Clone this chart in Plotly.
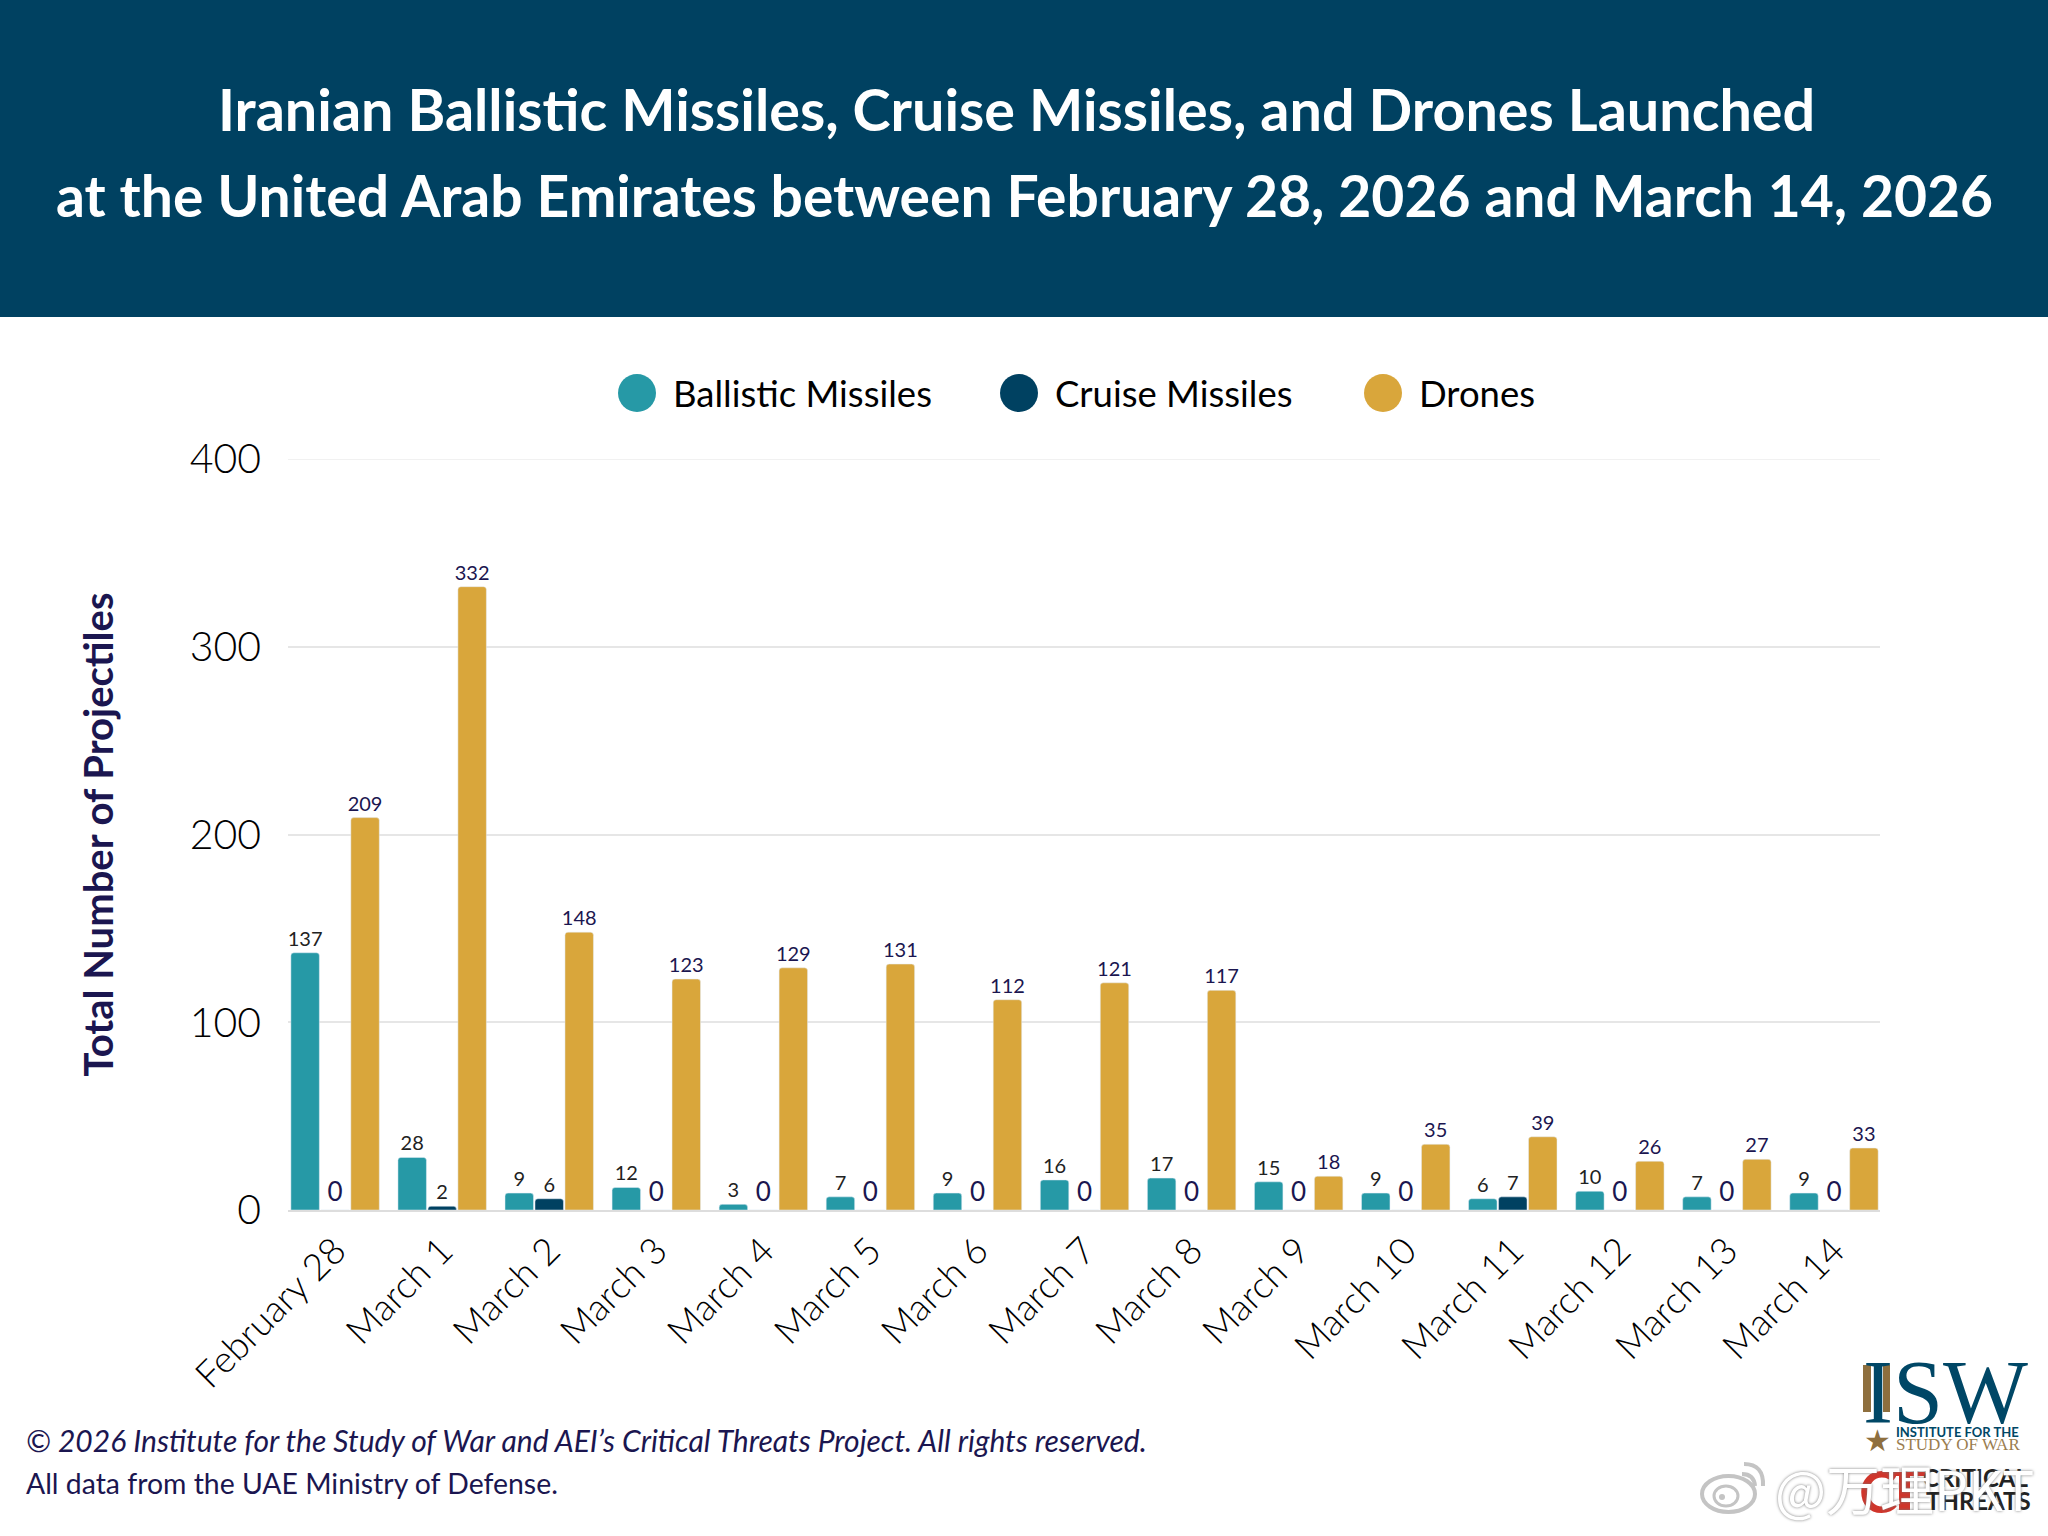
import plotly.graph_objects as go

days = ["February 28", "March 1", "March 2", "March 3", "March 4", "March 5", "March 6", "March 7",
        "March 8", "March 9", "March 10", "March 11", "March 12", "March 13", "March 14"]
ballistic = [137, 28, 9, 12, 3, 7, 9, 16, 17, 15, 9, 6, 10, 7, 9]
cruise = [0, 2, 6, 0, 0, 0, 0, 0, 0, 0, 0, 7, 0, 0, 0]
drones = [209, 332, 148, 123, 129, 131, 112, 121, 117, 18, 35, 39, 26, 27, 33]

TEAL = "#2699a6"
NAVY = "#004161"
GOLD = "#d9a63b"
INK = "#1b1650"
BROWN = "#8e6f3e"
RED = "#d0352b"
MARK = "#c4c4c4"
W, H = 2048, 1536


def px(x):
    return x / W


def py(y):
    return 1 - y / H


def label_fonts(values, color):
    # the zero labels are drawn bigger than the others in the original
    return dict(
        family="Lato",
        size=[26 if v == 0 else 20 for v in values],
        color=[INK if v == 0 else color for v in values],
    )


def note(x, y, text, size, color="black", family="Lato", xanchor="center"):
    return dict(xref="paper", yref="paper", x=px(x), y=py(y), text=text, showarrow=False,
                xanchor=xanchor, yanchor="middle",
                font=dict(size=size, color=color, family=family))


def box(kind, x0, y0, x1, y1, fill, **kw):
    return dict(type=kind, xref="paper", yref="paper", x0=px(x0), x1=px(x1), y0=py(y1), y1=py(y0),
                fillcolor=fill, **kw)


def curve(x0, y0, cx, cy, x1, y1):
    path = f"M {px(x0)} {py(y0)} Q {px(cx)} {py(cy)} {px(x1)} {py(y1)}"
    return dict(type="path", xref="paper", yref="paper", path=path, line=dict(color=MARK, width=4))


fig = go.Figure()
for name, values, color, text_color in [
    ("Ballistic Missiles", ballistic, TEAL, "#222222"),
    ("Cruise Missiles", cruise, NAVY, "#222222"),
    ("Drones", drones, GOLD, INK),
]:
    fig.add_trace(go.Bar(
        name=name, x=days, y=values, marker_color=color, text=values,
        textposition="outside", textfont=label_fonts(values, text_color),
        constraintext="none", cliponaxis=False, showlegend=False,
    ))

shapes = [
    # title band
    box("rect", 0, 0, W, 317, NAVY, line_width=0, layer="below"),
    # top gridline is fainter than the rest
    dict(type="line", xref="paper", yref="y", x0=px(288), x1=px(1880), y0=400, y1=400,
         line=dict(color="#f1f1f1", width=2), layer="below"),
]
annotations = [
    note(1016, 109, "<b>Iranian Ballistic Missiles, Cruise Missiles, and Drones Launched</b>", 57.5, "white"),
    note(1024, 195, "<b>at the United Arab Emirates between February 28, 2026 and March 14, 2026</b>", 57, "white"),
    note(24, 1440, "<i>© 2026 Institute for the Study of War and AEI’s Critical Threats Project. All rights reserved.</i>",
         30, INK, xanchor="left"),
    note(24, 1483, "All data from the UAE Ministry of Defense.", 28.4, INK, xanchor="left"),
]

# legend with round keys
for name, color, key_x in [("Ballistic Missiles", TEAL, 637), ("Cruise Missiles", NAVY, 1019), ("Drones", GOLD, 1383)]:
    shapes.append(box("circle", key_x - 19, 374, key_x + 19, 412, color, line_width=0))
    annotations.append(note(key_x + 34, 393, name, 36.5, xanchor="left"))

# ISW / Critical Threats logos, top right of the footer
shapes += [
    box("rect", 1863, 1365, 1871, 1412, BROWN, line_width=0),
    box("rect", 1883, 1365, 1890, 1412, BROWN, line_width=0),
    box("rect", 1899, 1472, 1910, 1511, RED, line_width=0),
    box("rect", 1882, 1472, 1925, 1476, RED, line_width=0),
]
annotations += [
    note(1945, 1392, "ISW", 90, "#004766", "Liberation Serif"),
    note(1877, 1440, "★", 30, BROWN, "DejaVu Sans"),
    note(1957, 1432, "<b>INSTITUTE FOR THE</b>", 13, "#004766"),
    note(1958, 1444, "STUDY OF WAR", 17, "#9a7d4f", "Liberation Serif"),
    note(1878, 1490, "<b>C</b>", 58, RED),
    note(1975, 1477, "<b>CRITICAL</b>", 24, "#222222"),
    note(1978, 1500, "<b>THREATS</b>", 24, "#222222"),
]

# weibo watermark
shapes += [
    box("circle", 1702, 1476, 1755, 1512, "rgba(255,255,255,0.8)", line=dict(color=MARK, width=4)),
    box("circle", 1714, 1486, 1738, 1506, "rgba(255,255,255,0.8)", line=dict(color=MARK, width=3)),
    box("circle", 1719, 1494, 1725, 1500, MARK, line_width=0),
    curve(1742, 1474, 1754, 1474, 1755, 1486),
    curve(1744, 1464, 1764, 1464, 1763, 1486),
]
annotations.append(dict(
    xref="paper", yref="paper", x=px(1773), y=py(1487), xanchor="left", yanchor="middle", showarrow=False,
    text="@万理PKT",
    font=dict(size=54, color="white", family="Noto Sans CJK SC", shadow="0 0 3px #777777"),
))

fig.update_layout(
    width=W, height=H,
    margin=dict(l=0, r=0, t=0, b=0),
    barmode="group", bargap=0.16, bargroupgap=0.05, barcornerradius=3,
    paper_bgcolor="white", plot_bgcolor="white",
    shapes=shapes, annotations=annotations,
    xaxis=dict(
        domain=[px(288), px(1880)], range=[-0.44, 14.43], tickangle=-45, automargin=False,
        tickfont=dict(family="Lato Light, Lato", size=37, color="black"),
        showgrid=False, showline=True, linecolor="#dddddd", linewidth=2, ticks="",
        ticklabelstandoff=2,
    ),
    yaxis=dict(
        domain=[py(1210), py(459)], range=[0, 400], tickvals=[0, 100, 200, 300, 400], automargin=False,
        tickfont=dict(family="Lato Light, Lato", size=41, color="black"),
        gridcolor="#e6e6e6", gridwidth=2, zeroline=False, ticks="", ticklabelstandoff=26,
        title=dict(text="<b>Total Number of Projectiles</b>", standoff=63,
                   font=dict(family="Lato", size=40, color=INK)),
    ),
)

fig.write_html("out.html", config=dict(displayModeBar=False), post_script="document.body.style.margin='0';")
